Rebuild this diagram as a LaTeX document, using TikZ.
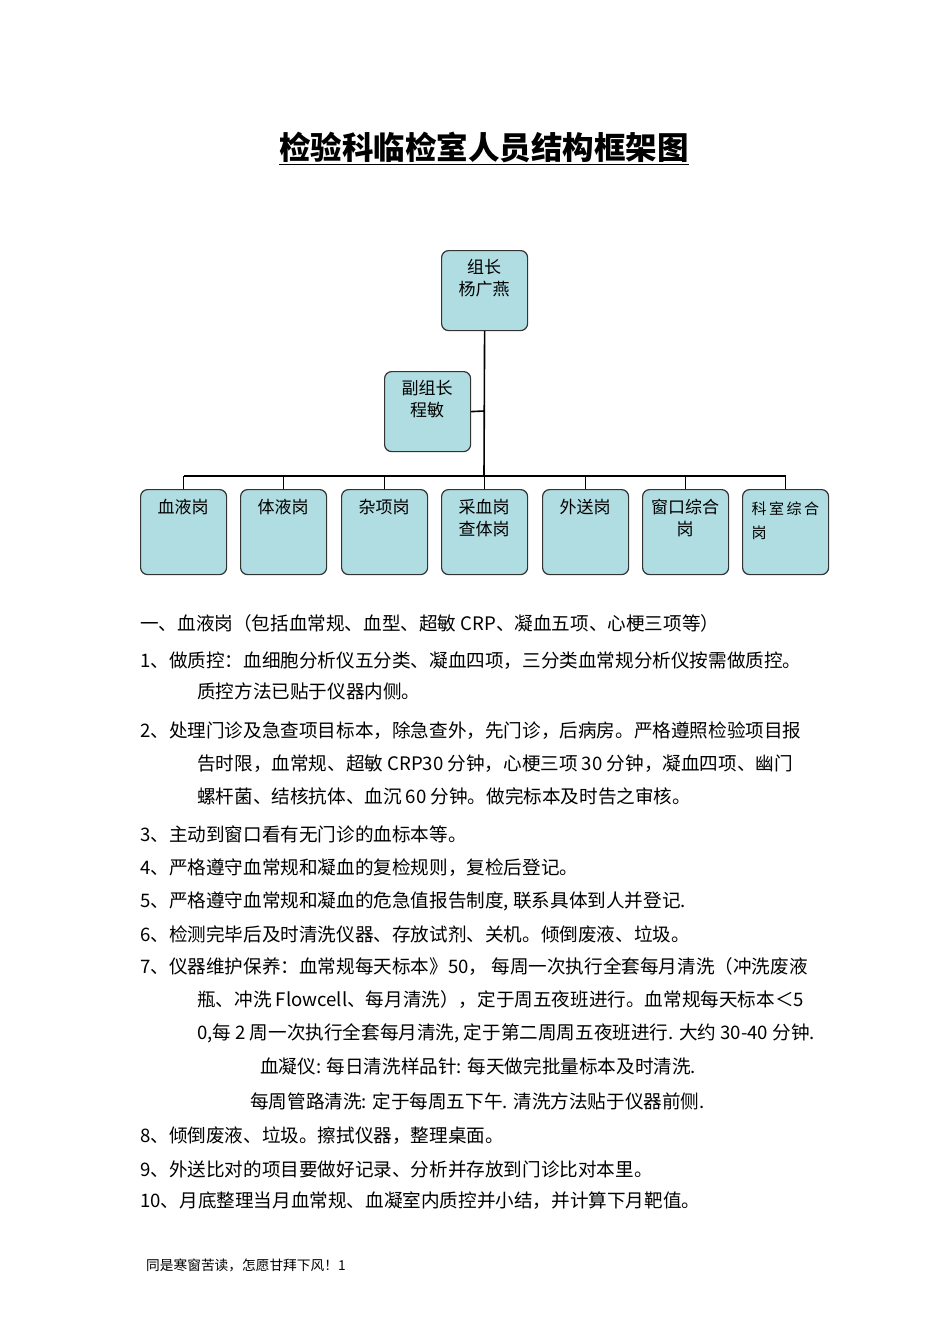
\documentclass[tikz,border=0pt]{standalone}
\usepackage{fontspec}
\setmainfont{Noto Sans CJK SC}
\begin{document}
\begin{tikzpicture}[x=1pt,y=-1pt,
 box/.style={draw=black!80,line width=1.2pt,fill={rgb,255:red,176;green,221;blue,226},rounded corners=7pt,anchor=north west,inner sep=0pt,align=center,font=\fontsize{17}{22}\selectfont},
 tx/.style={anchor=west,inner sep=0pt,font=\fontsize{18.6}{20}\selectfont},
 ln/.style={line width=1.6pt}]
\useasboundingbox (0,0) rectangle (950,1344);
\node[font=\bfseries\fontsize{31.5}{34}\selectfont] (title) at (484,148) {\underline{检验科临检室人员结构框架图}};
\node[box,minimum width=86pt,minimum height=80pt] (top) at (441,250) {};
\node[font=\fontsize{17}{22}\selectfont,align=center] at (484,278) {组长\\杨广燕};
\node[box,minimum width=86pt,minimum height=80pt] (vice) at (384,371) {};
\node[font=\fontsize{17}{22}\selectfont,align=center] at (427,399) {副组长\\程敏};
\foreach \x/\n/\t in {140/b1/血液岗,240/b2/体液岗,341/b3/杂项岗,441/b4/{采血岗\\查体岗},542/b5/外送岗,642/b6/{窗口综合\\岗}}{
 \node[box,minimum width=86pt,minimum height=85pt] (\n) at (\x,489) {};
 \node[font=\fontsize{17}{22}\selectfont,align=center,anchor=north] at (\x+43,496) {\t};
}
\node[box,minimum width=86pt,minimum height=85pt] (b7) at (742,489) {};
\node[font=\fontsize{15}{24}\selectfont,align=left,anchor=north west] at (748,498) {科\,室\,综\,合\\岗};
\coordinate (hub) at (484,476);
\draw[ln] (top.south) -- (hub);
\draw[ln] (vice.east) -- (484,411);
\draw[ln] (b1.north|-hub) -- (b7.north|-hub);
\foreach \n in {b1,b2,b3,b4,b5,b6,b7} \draw[ln] (\n.north|-hub) -- (\n.north);
\node[tx] (l0) at (140,623) {一、血液岗（包括血常规、血型、超敏 CRP、凝血五项、心梗三项等）};
\node[tx] (l1) at (140,661) {1、做质控：血细胞分析仪五分类、凝血四项，三分类血常规分析仪按需做质控。};
\node[tx] (l1b) at (197,691) {质控方法已贴于仪器内侧。};
\node[tx] (l2) at (140,731) {2、处理门诊及急查项目标本，除急查外，先门诊，后病房。严格遵照检验项目报};
\node[tx] (l2b) at (197,764) {告时限，血常规、超敏 CRP30 分钟，心梗三项 30 分钟，凝血四项、幽门};
\node[tx] (l2c) at (197,796) {螺杆菌、结核抗体、血沉 60 分钟。做完标本及时告之审核。};
\node[tx] (l3) at (140,834) {3、主动到窗口看有无门诊的血标本等。};
\node[tx] (l4) at (140,868) {4、严格遵守血常规和凝血的复检规则，复检后登记。};
\node[tx] (l5) at (140,901) {5、严格遵守血常规和凝血的危急值报告制度, 联系具体到人并登记.};
\node[tx] (l6) at (140,934) {6、检测完毕后及时清洗仪器、存放试剂、关机。倾倒废液、垃圾。};
\node[tx] (l7) at (140,967) {7、仪器维护保养：血常规每天标本》50， 每周一次执行全套每月清洗（冲洗废液};
\node[tx] (l7b) at (197,1000) {瓶、冲洗 Flowcell、每月清洗），定于周五夜班进行。血常规每天标本＜5};
\node[tx] (l7c) at (197,1033) {0,每 2 周一次执行全套每月清洗, 定于第二周周五夜班进行. 大约 30-40 分钟.};
\node[tx] (l7d) at (260,1066) {血凝仪: 每日清洗样品针: 每天做完批量标本及时清洗.};
\node[tx] (l7e) at (250,1101) {每周管路清洗: 定于每周五下午. 清洗方法贴于仪器前侧.};
\node[tx] (l8) at (140,1136) {8、倾倒废液、垃圾。擦拭仪器，整理桌面。};
\node[tx] (l9) at (140,1169) {9、外送比对的项目要做好记录、分析并存放到门诊比对本里。};
\node[tx] (l10) at (140,1201) {10、月底整理当月血常规、血凝室内质控并小结，并计算下月靶值。};
\node[anchor=west,inner sep=0pt,font=\fontsize{13.7}{15}\selectfont] (foot) at (146,1265) {同是寒窗苦读，怎愿甘拜下风！1};
\end{tikzpicture}
\end{document}
